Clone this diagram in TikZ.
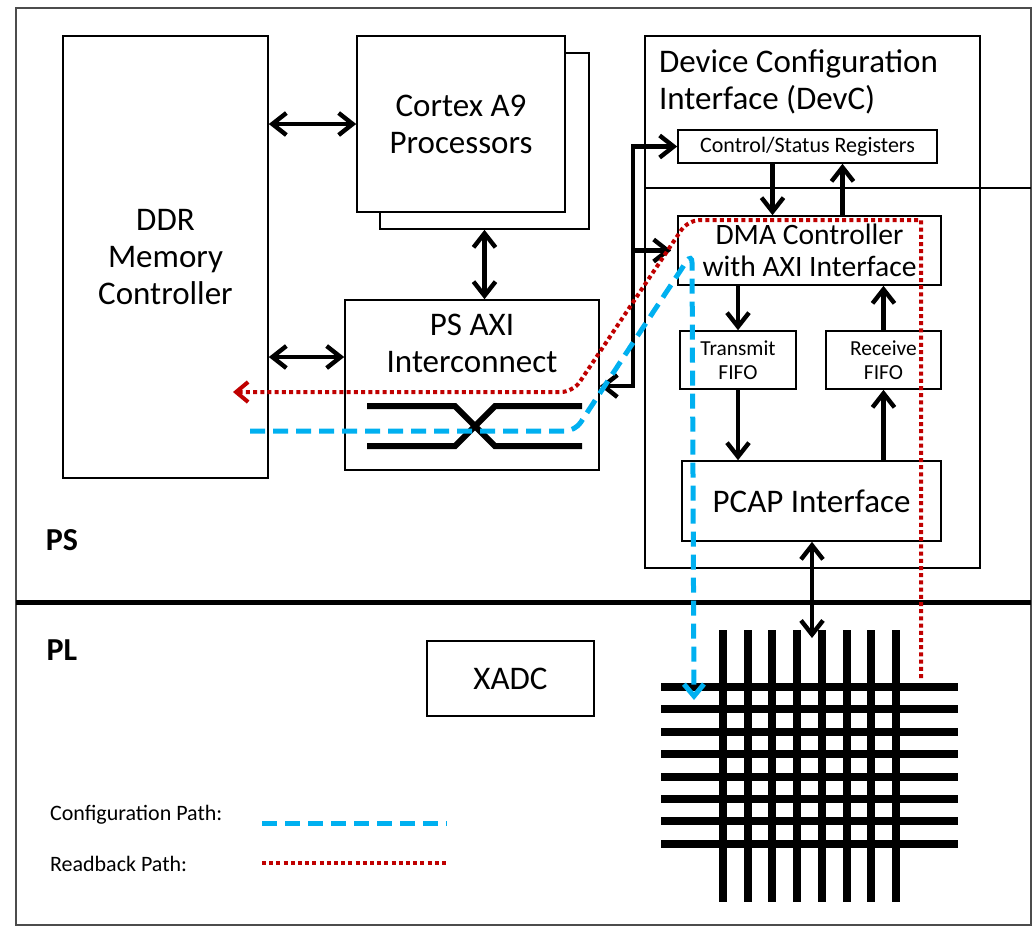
\documentclass[tikz,border=0pt]{standalone}
\usepackage{fontspec}
\setmainfont{Carlito}
\usetikzlibrary{arrows.meta}
\definecolor{cfgblue}{HTML}{00B0F0}
\definecolor{rbred}{HTML}{C00000}

\begin{document}
\begin{tikzpicture}[x=0.5pt,y=-0.5pt,
    blk/.style={draw, line width=0.8pt, inner sep=0pt, fill=white, align=center},
    big/.style={font=\fontsize{16.5}{18.5}\selectfont, align=center},
    med/.style={font=\fontsize{14.8}{16}\selectfont, align=center},
    sml/.style={font=\fontsize{10.7}{12}\selectfont, align=center},
    leg/.style={font=\fontsize{11}{13}\selectfont, anchor=west},
    side/.style={font=\bfseries\fontsize{16}{18}\selectfont},
    arr/.style={line width=2.2pt, >={Straight Barb[length=7pt,width=11pt]}},
    xbar/.style={line width=3pt},
    fab/.style={line width=4pt},
    cfg/.style={cfgblue, line width=2.5pt, dash pattern=on 7.5pt off 4pt,
        >={Straight Barb[length=6pt,width=10pt]}},
    rb/.style={rbred, line width=2pt, dash pattern=on 2pt off 1.6pt,
        >={Straight Barb[length=6pt,width=10pt]}}]

    \useasboundingbox (0,0) rectangle (1032,934);

    % Cadre PS / PL
    \draw[gray!60!black, line width=0.6pt] (16,8) rectangle (1031,925);
    \draw[line width=2.5pt] (16,602) -- (1031,602);
    \node[side] (ps) at (62,540) {PS};
    \node[side] (pl) at (62,650) {PL};

    % Blocs PS
    \node[blk, big, minimum width=102.5pt, minimum height=221pt] (ddr) at (165.5,257) {DDR\\Memory\\Controller};
    \node[blk, minimum width=104.5pt, minimum height=88pt] (cpub) at (484.5,141) {};
    \node[blk, big, minimum width=104pt, minimum height=88pt] (cpu) at (461,124) {Cortex A9\\Processors};
    \node[blk, minimum width=127pt, minimum height=85pt] (axi) at (472,385) {};
    \node[big] (axitxt) at (472,343) {PS AXI\\Interconnect};
    \draw[xbar] (367,406) -- (455,406) -- (495,446) -- (582,446);
    \draw[xbar] (367,446) -- (455,446) -- (495,406) -- (582,406);

    % DevC
    \node[blk, minimum width=167.5pt, minimum height=266pt] (devc) at (812.5,302) {};
    \node[big, align=left, anchor=north west] (devctxt) at (652,43) {Device Configuration\\Interface (DevC)};
    \draw[line width=0.8pt] (645,188) -- (1031,188);
    \node[blk, font=\fontsize{11}{13}\selectfont, minimum width=129.5pt, minimum height=16.5pt] (csr) at (807.5,146.5) {Control/Status Registers};
    \node[blk, med, minimum width=131.5pt, minimum height=34.5pt] (dma) at (809.5,250.5) {DMA Controller\\with AXI Interface};
    \node[blk, sml, minimum width=58pt, minimum height=29pt] (txfifo) at (738,360) {Transmit\\FIFO};
    \node[blk, sml, minimum width=57.5pt, minimum height=29pt] (rxfifo) at (883.5,360) {Receive\\FIFO};
    \node[blk, big, minimum width=129.5pt, minimum height=40pt] (pcap) at (811.5,501) {PCAP Interface};

    % Bloc PL
    \node[blk, big, minimum width=83.5pt, minimum height=37.5pt] (xadc) at (510.5,678.5) {XADC};

    % Liaisons
    \draw[arr,<->] (ddr.east |- cpu) -- (cpu.west);
    \draw[arr,<->] (ddr.east |- 0,357) -- (axi.west |- 0,357);
    \draw[arr,<->] (cpub.south) -- (cpub.south |- axi.north);

    \coordinate (busbot) at (633,386);
    \draw[arr,<->] (csr.west) -- (csr.west -| busbot) -- (busbot) -- (axi.east |- busbot);
    \draw[arr,->] (dma.west -| busbot) -- ([xshift=-3pt]dma.west);

    \draw[arr,->] ([xshift=-17.5pt]csr.south) -- ([xshift=-17.5pt]csr.south |- dma.north);
    \draw[arr,->] ([xshift=17.5pt]csr.south |- dma.north) -- ([xshift=17.5pt]csr.south);
    \draw[arr,->] (dma.south -| txfifo) -- (txfifo.north);
    \draw[arr,->] (rxfifo.north) -- (dma.south -| rxfifo);
    \draw[arr,->] (txfifo.south) -- (pcap.north -| txfifo);
    \draw[arr,->] (pcap.north -| rxfifo) -- (rxfifo.south);

    % Matrice PL
    \foreach \i in {0,...,7}
        \draw[fab] (723+24.7*\i,630) -- (723+24.7*\i,902);
    \foreach \j in {0,...,7}
        \draw[fab] (661,687+22.4*\j) -- (958,687+22.4*\j);

    \coordinate (fabtop) at (812,638);
    \draw[arr,<->] (pcap.south -| fabtop) -- (fabtop);

    % Chemins
    \coordinate (cfgstart) at (250,431);
    \coordinate (cfgend) at (694,700);
    \draw[cfg,->,rounded corners=5pt] (cfgstart) -- (575,431) -- (692,253) -- (cfgend);

    \coordinate (rbstart) at (921,678);
    \coordinate (rbend) at (233,392);
    \draw[rb,->] (rbstart) -- (921,220) [rounded corners=6pt] -- (688,220) -- (573,392) -- (rbend);

    % Legende
    \node[leg] (cfgleg) at (43,815) {Configuration Path:};
    \node[leg] (rbleg) at (43,864) {Readback Path:};
    \draw[cfg] (262,823) -- (447,823);
    \draw[rb] (262,863) -- (447,863);
\end{tikzpicture}
\end{document}
